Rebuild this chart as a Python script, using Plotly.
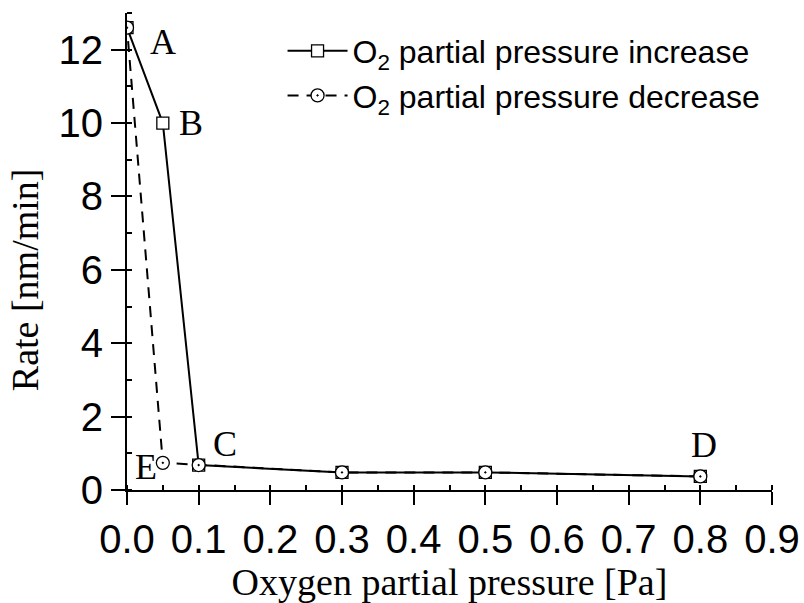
import plotly.graph_objects as go

# Data
pressure_inc = [0.0, 0.05, 0.1, 0.3, 0.5, 0.8]
rate_inc = [12.6, 10.0, 0.68, 0.48, 0.48, 0.37]
pressure_dec = [0.8, 0.5, 0.3, 0.1, 0.05, 0.0]
rate_dec = [0.37, 0.48, 0.48, 0.68, 0.74, 12.6]
label_text = ["A", "B", "C", "D", "E"]
label_x = [0.050, 0.089, 0.137, 0.805, 0.026]
label_y = [12.2, 10.0, 1.25, 1.23, 0.63]

SANS = "Liberation Sans, Arial, sans-serif"
SERIF = "Liberation Serif, Times New Roman, serif"

fig = go.Figure()
fig.add_trace(go.Scatter(
    x=pressure_inc, y=rate_inc, mode="lines+markers",
    name="O<sub>2</sub> partial pressure increase",
    line=dict(color="black", width=2, dash="solid"),
    marker=dict(symbol="square", size=12, color="white",
                line=dict(color="black", width=1.3)),
))
fig.add_trace(go.Scatter(
    x=pressure_dec, y=rate_dec, mode="lines+markers",
    name="O<sub>2</sub> partial pressure decrease",
    line=dict(color="black", width=2, dash="11px,8px"),
    marker=dict(symbol="circle-dot", size=13, color="white",
                line=dict(color="black", width=1.3)),
))

for t, x, y in zip(label_text, label_x, label_y):
    fig.add_annotation(x=x, y=y, text=t, showarrow=False,
                       font=dict(family=SERIF, size=36, color="black"),
                       xanchor="center", yanchor="middle")

fig.add_annotation(xref="paper", yref="paper", x=-0.158, y=0.44,
                   text="Rate [nm/min]", textangle=-90, showarrow=False,
                   font=dict(family=SERIF, size=38, color="black"),
                   xanchor="center", yanchor="middle")

fig.update_layout(
    width=804, height=603,
    margin=dict(l=127, r=32, t=13, b=113, autoexpand=False),
    paper_bgcolor="white", plot_bgcolor="white",
    showlegend=True,
    legend=dict(x=0.99, y=0.978, xanchor="right", yanchor="top",
                bgcolor="rgba(0,0,0,0)", borderwidth=0,
                font=dict(family=SANS, size=32, color="black"),
                tracegroupgap=0, itemwidth=60),
    font=dict(family=SANS, color="black"),
    xaxis=dict(range=[0, 0.9], dtick=0.1, tick0=0, tickformat=".1f",
               automargin=False,
               showgrid=False, zeroline=False,
               showline=True, linecolor="black", linewidth=2,
               ticks="outside", ticklen=13, tickwidth=2, tickcolor="black",
               minor=dict(ticks="inside", ticklen=5, tickwidth=1.5, dtick=0.05,
                          tickcolor="black", showgrid=False),
               tickfont=dict(family=SANS, size=40, color="black"),
               title=dict(text="Oxygen partial pressure [Pa]", standoff=0,
                          font=dict(family=SERIF, size=38, color="black"))),
    yaxis=dict(range=[0, 13], dtick=2, tick0=0, automargin=False,
               showgrid=False, zeroline=False,
               showline=True, linecolor="black", linewidth=2,
               ticks="outside", ticklen=14, tickwidth=2, tickcolor="black",
               minor=dict(ticks="inside", ticklen=5, tickwidth=1.5, dtick=1,
                          tickcolor="black", showgrid=False),
               tickfont=dict(family=SANS, size=40, color="black")),
    xaxis2=dict(overlaying="x", matches="x", side="top", range=[0, 0.9],
                automargin=False,
                dtick=0.1, tick0=0, showticklabels=False, showgrid=False,
                zeroline=False, showline=True, linecolor="black", linewidth=2,
                ticks="inside", ticklen=6, tickwidth=1.5, tickcolor="black",
                minor=dict(ticks="inside", ticklen=6, tickwidth=1.5, dtick=0.05,
                           tickcolor="black"), anchor="y"),
    yaxis2=dict(overlaying="y", matches="y", side="right", range=[0, 13],
                automargin=False,
                dtick=2, tick0=0, showticklabels=False, showgrid=False,
                zeroline=False, showline=True, linecolor="black", linewidth=2,
                ticks="inside", ticklen=6, tickwidth=1.5, tickcolor="black",
                minor=dict(ticks="inside", ticklen=6, tickwidth=1.5, dtick=1,
                           tickcolor="black"), anchor="x"),
)

fig.write_html("out.html")
